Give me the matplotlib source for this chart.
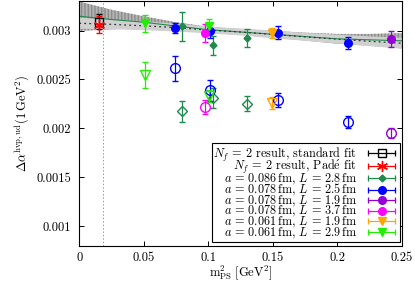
import numpy as np
import matplotlib
matplotlib.use("Agg")
import matplotlib.pyplot as plt
from matplotlib.lines import Line2D
from matplotlib.legend_handler import HandlerLine2D

plt.rcParams['font.family'] = ['cmr10', 'DejaVu Serif']
plt.rcParams['mathtext.fontset'] = 'cm'
plt.rcParams['axes.formatter.use_mathtext'] = True

# fit bands
band_x = [0.0, 0.025, 0.05, 0.075, 0.1, 0.125, 0.15, 0.175, 0.2, 0.225, 0.25]
pade_c = [0.003146, 0.003112, 0.003085, 0.003045, 0.003008, 0.002985, 0.002962, 0.002938, 0.002915, 0.002905, 0.002895]
pade_err = [0.00015, 0.0001, 0.00006, 0.00004, 0.00003, 0.00003, 0.000035, 0.00004, 0.00005, 0.00006, 0.000078]
std_c = [0.003074, 0.003063, 0.003048, 0.003030, 0.003005, 0.002985, 0.002960, 0.002935, 0.002912, 0.00289, 0.00287]
std_err = [0.000056, 0.00005, 0.000045, 0.00004, 0.000035, 0.000035, 0.00004, 0.00004, 0.000045, 0.00005, 0.000055]

m_phys = 0.0182

# extrapolated results
res_x = 0.015
std_y, std_e = 0.003092, 0.00008
pade_y, pade_e = 0.00306, 0.00009

# lattice ensembles: x, filled y, filled err, open y, open err
dg_x = [0.080, 0.104, 0.130]
dg_y = [0.003044, 0.002847, 0.002925]
dg_e = [0.00015, 0.0001, 0.00009]
dg_yo = [0.002173, 0.002309, 0.002252]
dg_eo = [0.00011, 0.0001, 0.000075]

bl_x = [0.0745, 0.1017, 0.1543, 0.208]
bl_y = [0.003027, 0.003000, 0.002976, 0.00287]
bl_e = [0.000054, 0.00008, 0.000066, 0.00006]
bl_yo = [0.002615, 0.002388, 0.002293, 0.002064]
bl_eo = [0.000128, 0.00011, 0.000073, 0.00006]

pu_x = [0.2414]
pu_y = [0.002912]
pu_e = [0.00008]
pu_yo = [0.001956]
pu_eo = [0.00005]

mg_x = [0.0978]
mg_y = [0.002977]
mg_e = [0.00009]
mg_yo = [0.002218]
mg_eo = [0.00007]

or_x = [0.1494]
or_y = [0.002976]
or_e = [0.00005]
or_yo = [0.002262]
or_eo = [0.00006]

li_x = [0.0512, 0.1006]
li_y = [0.003074, 0.003051]
li_e = [0.000087, 0.00007]
li_yo = [0.002548, 0.00233]
li_eo = [0.00013, 0.00006]

series = [
    (dg_x, dg_y, dg_e, dg_yo, dg_eo, '#1f8a4c', 'D', 3.5, r'$a\,=\,0.086\,$fm, $L\,=\,2.8\,$fm'),
    (bl_x, bl_y, bl_e, bl_yo, bl_eo, '#0000ff', 'o', 5.5, r'$a\,=\,0.078\,$fm, $L\,=\,2.5\,$fm'),
    (pu_x, pu_y, pu_e, pu_yo, pu_eo, '#9400d3', 'o', 5.5, r'$a\,=\,0.078\,$fm, $L\,=\,1.9\,$fm'),
    (mg_x, mg_y, mg_e, mg_yo, mg_eo, '#ff00ff', 'o', 5.5, r'$a\,=\,0.078\,$fm, $L\,=\,3.7\,$fm'),
    (or_x, or_y, or_e, or_yo, or_eo, '#ffa500', 'v', 5.5, r'$a\,=\,0.061\,$fm, $L\,=\,1.9\,$fm'),
    (li_x, li_y, li_e, li_yo, li_eo, '#22ee00', 'v', 5.5, r'$a\,=\,0.061\,$fm, $L\,=\,2.9\,$fm'),
]

fig = plt.figure(figsize=(4.15, 2.84), dpi=100)
ax = fig.add_axes([0.191, 0.134, 0.777, 0.862])

bx = np.array(band_x)
ax.fill_between(bx, np.array(pade_c) - pade_err, np.array(pade_c) + pade_err,
                facecolor='#b4b4b4', edgecolor='#8c8c8c', hatch='|||||', lw=0, zorder=1)
ax.fill_between(bx, np.array(std_c) - std_err, np.array(std_c) + std_err,
                facecolor='#d0d0d0', lw=0, zorder=1.5)
ax.plot(bx, pade_c, color='#1f8a4c', lw=0.8, zorder=2)
ax.plot(bx, std_c, color='#333333', lw=0.9, ls=(0, (1.5, 2.5)), zorder=2)
ax.axvline(m_phys, color='#999999', lw=0.7, ls=(0, (1.5, 2)), zorder=1)

ekw = dict(lw=0.9, capsize=2, capthick=0.9, elinewidth=0.9, ls='none', zorder=3)
handles, labels = [], []
hmap = {}


def make_handle(color, marker, ms, mfc):
    bar = Line2D([], [], color=color, lw=0.9, marker='|', markersize=4, mew=0.9)
    mk = Line2D([], [], color=color, marker=marker, mfc=mfc, ls='none', markersize=ms, mew=1.0)
    hmap[bar] = HandlerLine2D(numpoints=2)
    hmap[mk] = HandlerLine2D(numpoints=1)
    return (bar, mk)


ax.errorbar([res_x], [std_y], yerr=[std_e], color='black', marker='s', mfc='none',
            markersize=6, mew=1.0, **ekw)
ax.errorbar([res_x], [pade_y], yerr=[pade_e], color='#ff0000', marker=(6, 2, 0),
            markersize=8, mew=1.0, **ekw)
handles.append(make_handle('black', 's', 6, 'none'))
labels.append(r'$N_f\,=\,2$ result, standard fit')
handles.append(make_handle('#ff0000', (6, 2, 0), 8, '#ff0000'))
labels.append(r'$N_f\,=\,2$ result, Pad$\mathrm{\acute{e}}$ fit')

for x, y, e, yo, eo, c, m, ms, lab in series:
    ax.errorbar(x, y, yerr=e, color=c, marker=m, markersize=ms, mew=1.0, **ekw)
    ax.errorbar(x, yo, yerr=eo, color=c, marker=m, mfc='none', markersize=ms + 1.5, mew=1.0, **ekw)
    handles.append(make_handle(c, m, ms, c))
    labels.append(lab)

ax.set_xlim(0, 0.25)
ax.set_ylim(0.0008, 0.0033)
ax.set_xticks([0, 0.05, 0.1, 0.15, 0.2, 0.25])
ax.set_xticklabels(['0', '0.05', '0.1', '0.15', '0.2', '0.25'])
ax.set_yticks([0.001, 0.0015, 0.002, 0.0025, 0.003])
ax.set_yticklabels(['0.001', '0.0015', '0.002', '0.0025', '0.003'])
ax.tick_params(direction='in', top=True, right=True, length=3.5, width=0.7, labelsize=9)
ax.tick_params(axis='x', pad=4)
ax.tick_params(axis='y', pad=6)
for s in ax.spines.values():
    s.set_linewidth(0.8)

ax.set_xlabel(r'$\mathrm{m}^2_{\mathrm{PS}}\;[\mathrm{GeV}^2]$', fontsize=9, labelpad=0)
ax.set_ylabel(r'$\Delta\alpha^{\mathrm{hvp,ud}}(1\,\mathrm{GeV}^2)$', fontsize=9, labelpad=3)

leg = ax.legend(handles, labels, handler_map=hmap, loc='lower right', markerfirst=False,
                bbox_to_anchor=(0.995, 0.016), borderaxespad=0,
                fontsize=8.8, frameon=True, fancybox=False, edgecolor='black',
                framealpha=1, handlelength=2.8, handletextpad=0.6, labelspacing=-0.38,
                borderpad=0.12)
leg.get_frame().set_linewidth(0.8)

fig.savefig('out.png', dpi=100)
